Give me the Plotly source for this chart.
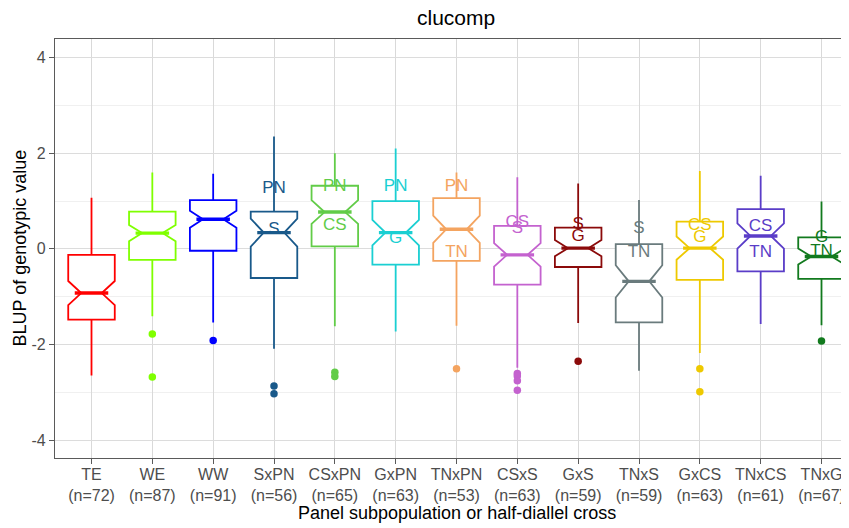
import math
import plotly.graph_objects as go

# ---------------- data ----------------
categories = ["TE", "WE", "WW", "SxPN", "CSxPN", "GxPN", "TNxPN",
              "CSxS", "GxS", "TNxS", "GxCS", "TNxCS", "TNxG"]
counts = [72, 87, 91, 56, 65, 63, 53, 63, 59, 59, 63, 61, 67]
q1 = [-1.48, -0.23, -0.04, -0.61, 0.05, -0.33, -0.25, -0.75, -0.38, -1.54, -0.65, -0.47, -0.63]
median = [-0.925, 0.33, 0.62, 0.34, 0.77, 0.34, 0.41, -0.125, 0.015, -0.68, 0.015, 0.27, -0.16]
q3 = [-0.125, 0.78, 1.02, 0.78, 1.32, 1.00, 1.06, 0.48, 0.445, 0.10, 0.57, 0.83, 0.24]
lower_whisker = [-2.65, -1.41, -1.54, -2.09, -1.62, -1.73, -1.61, -2.49, -1.55, -2.55, -2.18, -1.57, -1.60]
upper_whisker = [1.07, 1.60, 1.57, 2.35, 2.00, 2.10, 1.60, 1.50, 1.37, 1.02, 1.63, 1.53, 0.99]

outlier_cat = ["WE", "WE", "WW", "SxPN", "SxPN", "CSxPN", "CSxPN", "TNxPN",
               "CSxS", "CSxS", "CSxS", "CSxS", "GxS", "GxCS", "GxCS", "TNxG"]
outlier_val = [-1.78, -2.68, -1.92, -2.87, -3.03, -2.58, -2.67, -2.51,
               -2.61, -2.66, -2.76, -2.96, -2.35, -2.51, -2.99, -1.93]

label_cat = ["SxPN", "SxPN", "CSxPN", "CSxPN", "GxPN", "GxPN", "TNxPN", "TNxPN",
             "CSxS", "CSxS", "GxS", "GxS", "TNxS", "TNxS", "GxCS", "GxCS",
             "TNxCS", "TNxCS", "TNxG", "TNxG"]
label_text = ["PN", "S", "PN", "CS", "PN", "G", "PN", "TN",
              "CS", "S", "S", "G", "S", "TN", "CS", "G",
              "CS", "TN", "G", "TN"]
label_y = [1.26, 0.40, 1.29, 0.48, 1.29, 0.22, 1.29, -0.08,
           0.55, 0.43, 0.50, 0.26, 0.42, -0.08, 0.49, 0.24,
           0.47, -0.09, 0.24, -0.06]

tick_labels = [f"{c}<br>(n={n})" for c, n in zip(categories, counts)]

colors = ["#FF0000", "#7FFF00", "#0000FF", "#19598A", "#62CC48", "#1ACFD2", "#F4A460",
          "#C462CF", "#8B0A0A", "#6A7B7D", "#EEC900", "#5A3DC8", "#127A1E"]

# ---------------- style ----------------
FONT = "Liberation Sans, Arial, Helvetica, sans-serif"
BOX_W = 0.765
NOTCH_W = 0.28
pos = {c: i + 1 for i, c in enumerate(categories)}
col = {c: colors[i] for i, c in enumerate(categories)}

fig = go.Figure()

for i, c in enumerate(categories):
    iqr = q3[i] - q1[i]
    span = 1.58 * iqr / math.sqrt(counts[i])
    fig.add_trace(go.Box(
        x=[pos[c]], q1=[q1[i]], median=[median[i]], q3=[q3[i]],
        lowerfence=[lower_whisker[i]], upperfence=[upper_whisker[i]],
        notched=True, notchspan=[span], notchwidth=NOTCH_W,
        width=BOX_W, boxpoints=False,
        line=dict(color=colors[i], width=1.8),
        fillcolor="rgba(255,255,255,1)",
        whiskerwidth=0, hoverinfo="skip", showlegend=False,
    ))
    # thicker median segment (ggplot fatten)
    half = BOX_W / 2 * (1 - NOTCH_W)
    fig.add_trace(go.Scatter(
        x=[pos[c] - half, pos[c] + half], y=[median[i], median[i]],
        mode="lines", line=dict(color=colors[i], width=3.4),
        hoverinfo="skip", showlegend=False,
    ))

# outliers
fig.add_trace(go.Scatter(
    x=[pos[c] for c in outlier_cat], y=outlier_val, mode="markers",
    marker=dict(size=7.5, color=[col[c] for c in outlier_cat]),
    hoverinfo="skip", showlegend=False,
))

# parent labels
fig.add_trace(go.Scatter(
    x=[pos[c] for c in label_cat], y=label_y, mode="text", text=label_text,
    textposition="middle center",
    textfont=dict(family=FONT, size=17, color=[col[c] for c in label_cat]),
    hoverinfo="skip", showlegend=False,
))

# figure coordinates (page is offset by the 8px body margin)
W, H = 850, 520
ML, MT, MB = 47, 31, 70
PW, PH = W - ML, H - MT - MB

AXIS_COL = "#5a5a5a"
fig.update_layout(
    width=W, height=H, autosize=False,
    margin=dict(l=ML, r=0, t=MT, b=MB),
    paper_bgcolor="white", plot_bgcolor="white",
    font=dict(family=FONT, color="#4d4d4d"),
    showlegend=False,
    xaxis=dict(
        range=[0.4, 13.6], tickmode="array",
        tickvals=list(range(1, len(categories) + 1)), ticktext=tick_labels,
        tickfont=dict(size=16, color="#4d4d4d"),
        showgrid=True, gridcolor="#d9d9d9", gridwidth=1,
        zeroline=False, showline=True, mirror=True,
        linecolor=AXIS_COL, linewidth=1.2,
        ticks="outside", ticklen=5, tickcolor=AXIS_COL, tickwidth=1.1,
        ticklabelstandoff=-3,
    ),
    yaxis=dict(
        range=[-4.376, 4.391], tickmode="array",
        tickvals=[-4, -2, 0, 2, 4], ticktext=["-4", "-2", "0", "2", "4"],
        tickfont=dict(size=16, color="#4d4d4d"),
        showgrid=True, gridcolor="#dcdcdc", gridwidth=1,
        minor=dict(tickvals=[-3, -1, 1, 3], showgrid=True, gridcolor="#f0f0f0",
                   gridwidth=1, ticks=""),
        zeroline=False, showline=True, mirror=False,
        linecolor=AXIS_COL, linewidth=1.2,
        ticks="outside", ticklen=5, tickcolor=AXIS_COL, tickwidth=1.1,
    ),
    annotations=[
        dict(text="clucomp", xref="paper", yref="paper",
             x=(448 - ML) / PW, y=1 + (MT - 9) / PH, xanchor="center", yanchor="middle",
             showarrow=False, font=dict(family=FONT, size=21, color="black")),
        dict(text="Panel subpopulation or half-diallel cross", xref="paper", yref="paper",
             x=(448.5 - ML) / PW, y=-(505 - (MT + PH)) / PH, xanchor="center", yanchor="middle",
             showarrow=False, font=dict(family=FONT, size=18, color="black")),
        dict(text="BLUP of genotypic value", xref="paper", yref="paper",
             x=-(ML - 11) / PW, y=0.5, xanchor="center", yanchor="middle",
             textangle=-90, showarrow=False, font=dict(family=FONT, size=18, color="black")),
    ],
)

fig.write_html("out.html")
